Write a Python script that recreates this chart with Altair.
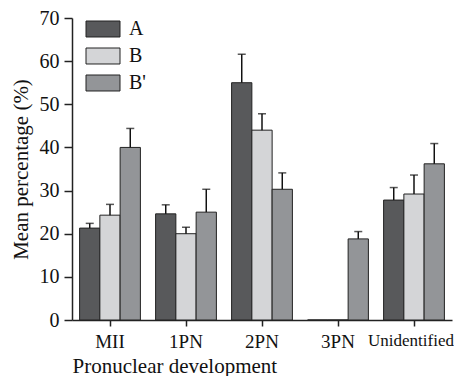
import altair as alt
import pandas as pd

categories = ["MII", "1PN", "2PN", "3PN", "Unidentified"]
series = ["A", "B", "B'"]
mean_A = [21.3, 24.6, 55.0, 0.0, 27.8]
mean_B = [24.3, 20.0, 44.0, 0.0, 29.2]
mean_Bp = [40.0, 25.0, 30.3, 18.8, 36.2]
upper_A = [22.4, 26.7, 61.6, None, 30.7]
upper_B = [26.8, 21.5, 47.8, None, 33.6]
upper_Bp = [44.4, 30.3, 34.1, 20.5, 40.9]
colors = ["#58595b", "#d4d5d7", "#939598"]

rows = []
for s, means, ups in zip(series, [mean_A, mean_B, mean_Bp], [upper_A, upper_B, upper_Bp]):
    for c, m, u in zip(categories, means, ups):
        rows.append({"cat": c, "series": s, "mean": m, "upper": u})
df = pd.DataFrame(rows)

FONT = "Times New Roman, Liberation Serif, serif"
last = categories[-1]

x = alt.X("cat:N", sort=categories,
          scale=alt.Scale(paddingInner=0.2, paddingOuter=0.1),
          axis=alt.Axis(title="Pronuclear development", labelAngle=0,
                        titleAnchor="start", titleX=0, titleFontWeight="normal",
                        labelAlign=alt.condition(f"datum.value == '{last}'",
                                                 alt.value("right"), alt.value("center")),
                        labelOffset=alt.condition(f"datum.value == '{last}'",
                                                  alt.value(40), alt.value(0)),
                        labelFontSize=alt.condition(f"datum.value == '{last}'",
                                                    alt.value(17), alt.value(19))))
xoff = alt.XOffset("series:N", sort=series)

bars = alt.Chart(df).mark_bar(stroke="#222222", strokeWidth=1).encode(
    x=x, xOffset=xoff,
    y=alt.Y("mean:Q", scale=alt.Scale(domain=[0, 70]),
            axis=alt.Axis(title="Mean percentage (%)", values=list(range(0, 71, 10)),
                          grid=False, titleFontWeight="normal")),
    fill=alt.Fill("series:N", sort=series,
                  scale=alt.Scale(domain=series, range=colors),
                  legend=alt.Legend(title=None, orient="none", legendX=21, legendY=1,
                                    symbolType="M-2,-0.94H2V0.94H-2Z", symbolSize=289,
                                    symbolStrokeColor="#222222", symbolStrokeWidth=1,
                                    labelFont=FONT, labelFontSize=20, labelColor="#111111",
                                    rowPadding=7, labelOffset=16)),
)

err_df = df.dropna(subset=["upper"])
rules = alt.Chart(err_df).mark_rule(color="#111111", strokeWidth=1.5).encode(
    x=x, xOffset=xoff, y="mean:Q", y2="upper:Q")
caps = alt.Chart(err_df).mark_tick(color="#111111", thickness=1.5, size=8).encode(
    x=x, xOffset=xoff, y="upper:Q")

chart = alt.layer(bars, rules, caps).properties(
    width=380, height=302,
    autosize=alt.AutoSizeParams(type="none"),
    padding={"left": 64, "top": 10, "right": 2, "bottom": 56},
).configure_view(stroke=None).configure_axis(
    labelFont=FONT, titleFont=FONT, labelFontSize=20, titleFontSize=21,
    labelColor="#111111", titleColor="#111111", domainColor="#222222",
    tickColor="#222222", domainWidth=1.5, tickWidth=1.5, tickSize=7,
    labelPadding=4,
).configure_axisY(titlePadding=8, labelPadding=5, tickSize=8
).configure_axisX(titlePadding=4, labelPadding=6, tickSize=6)

chart.save("out.html", embed_options={"renderer": "svg", "actions": False})
